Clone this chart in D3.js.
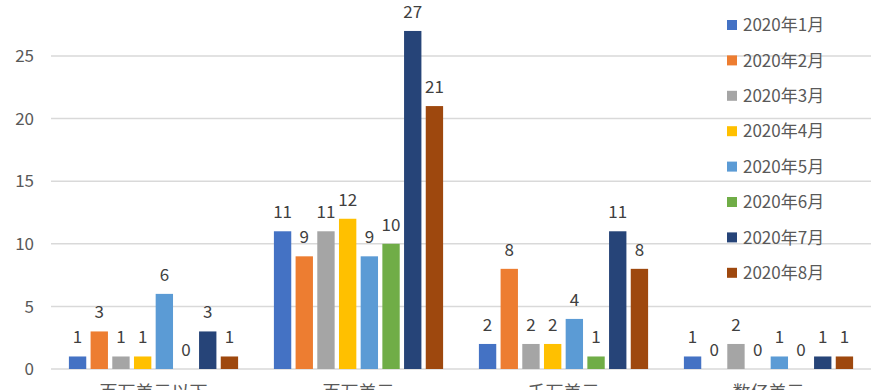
<!DOCTYPE html>
<html>
<head>
<meta charset="utf-8">
<script src="https://cdn.jsdelivr.net/npm/d3@7"></script>
<style>
  html, body { margin: 0; padding: 0; background: #fff; overflow: hidden; }
  svg { display: block; font-family: "Noto Sans CJK SC", "Noto Sans", sans-serif; }
</style>
</head>
<body>
<svg id="chart" width="894" height="390"></svg>
<script>
const categories = ["百万美元以下", "百万美元", "千万美元", "数亿美元"];
const seriesNames = ["2020年1月", "2020年2月", "2020年3月", "2020年4月", "2020年5月", "2020年6月", "2020年7月", "2020年8月"];
const seriesColors = ["#4472C4", "#ED7D31", "#A5A5A5", "#FFC000", "#5B9BD5", "#70AD47", "#264478", "#9E480E"];
// values per series, in category order
const jan = [1, 11, 2, 1];
const feb = [3, 9, 8, 0];
const mar = [1, 11, 2, 2];
const apr = [1, 12, 2, 0];
const may = [6, 9, 4, 1];
const jun = [0, 10, 1, 0];
const jul = [3, 27, 11, 1];
const aug = [1, 21, 8, 1];
const yTicks = [0, 5, 10, 15, 20, 25];

const seriesValues = [jan, feb, mar, apr, may, jun, jul, aug];

const svg = d3.select("#chart");
const left = 51, right = 871, bottom = 369;

const y = d3.scaleLinear().domain([0, 30]).range([bottom, bottom - 30 * 12.52]);
const x0 = d3.scaleBand().domain(categories).range([left, right]).padding(0);
const x1 = d3.scaleBand().domain(seriesNames).range([0, x0.bandwidth()])
  .paddingInner(0.2).paddingOuter(0.825);

// gridlines
svg.append("g").selectAll("line").data(yTicks).join("line")
  .attr("x1", left).attr("x2", right)
  .attr("y1", d => y(d)).attr("y2", d => y(d))
  .attr("stroke", "#D9D9D9").attr("stroke-width", 1.5);

// y tick labels
svg.append("g").selectAll("text").data(yTicks).join("text")
  .attr("x", 34).attr("y", d => y(d)).attr("dy", "0.36em")
  .attr("text-anchor", "end").attr("font-size", 17).attr("fill", "#595959")
  .text(d => d);

// bars
const groups = svg.append("g").selectAll("g").data(categories).join("g")
  .attr("transform", c => `translate(${x0(c)},0)`);

groups.each(function(c, ci) {
  const g = d3.select(this);
  const rows = seriesNames.map((s, si) => ({ s, si, v: seriesValues[si][ci] }));
  g.selectAll("rect").data(rows).join("rect")
    .attr("x", d => x1(d.s)).attr("width", x1.bandwidth())
    .attr("y", d => y(d.v)).attr("height", d => bottom - y(d.v))
    .attr("fill", d => seriesColors[d.si]);
  g.selectAll("text").data(rows).join("text")
    .attr("x", d => x1(d.s) + x1.bandwidth() / 2)
    .attr("y", d => y(d.v) - 13)
    .attr("text-anchor", "middle").attr("font-size", 17).attr("fill", "#404040")
    .text(d => d.v);
});

// category labels (cut off at the bottom)
svg.append("g").selectAll("text").data(categories).join("text")
  .attr("x", c => x0(c) + x0.bandwidth() / 2).attr("y", 399)
  .attr("text-anchor", "middle").attr("font-size", 18).attr("fill", "#595959")
  .text(c => c);

// legend
const legend = svg.append("g").selectAll("g").data(seriesNames).join("g")
  .attr("transform", (d, i) => `translate(727,${25 + i * 35.4})`);
legend.append("rect").attr("x", 0).attr("y", -5).attr("width", 10).attr("height", 10)
  .attr("fill", (d, i) => seriesColors[i]);
legend.append("text").attr("x", 16).attr("y", 0).attr("dy", "0.36em")
  .attr("font-size", 17).attr("fill", "#595959").text(d => d);
</script>
</body>
</html>
